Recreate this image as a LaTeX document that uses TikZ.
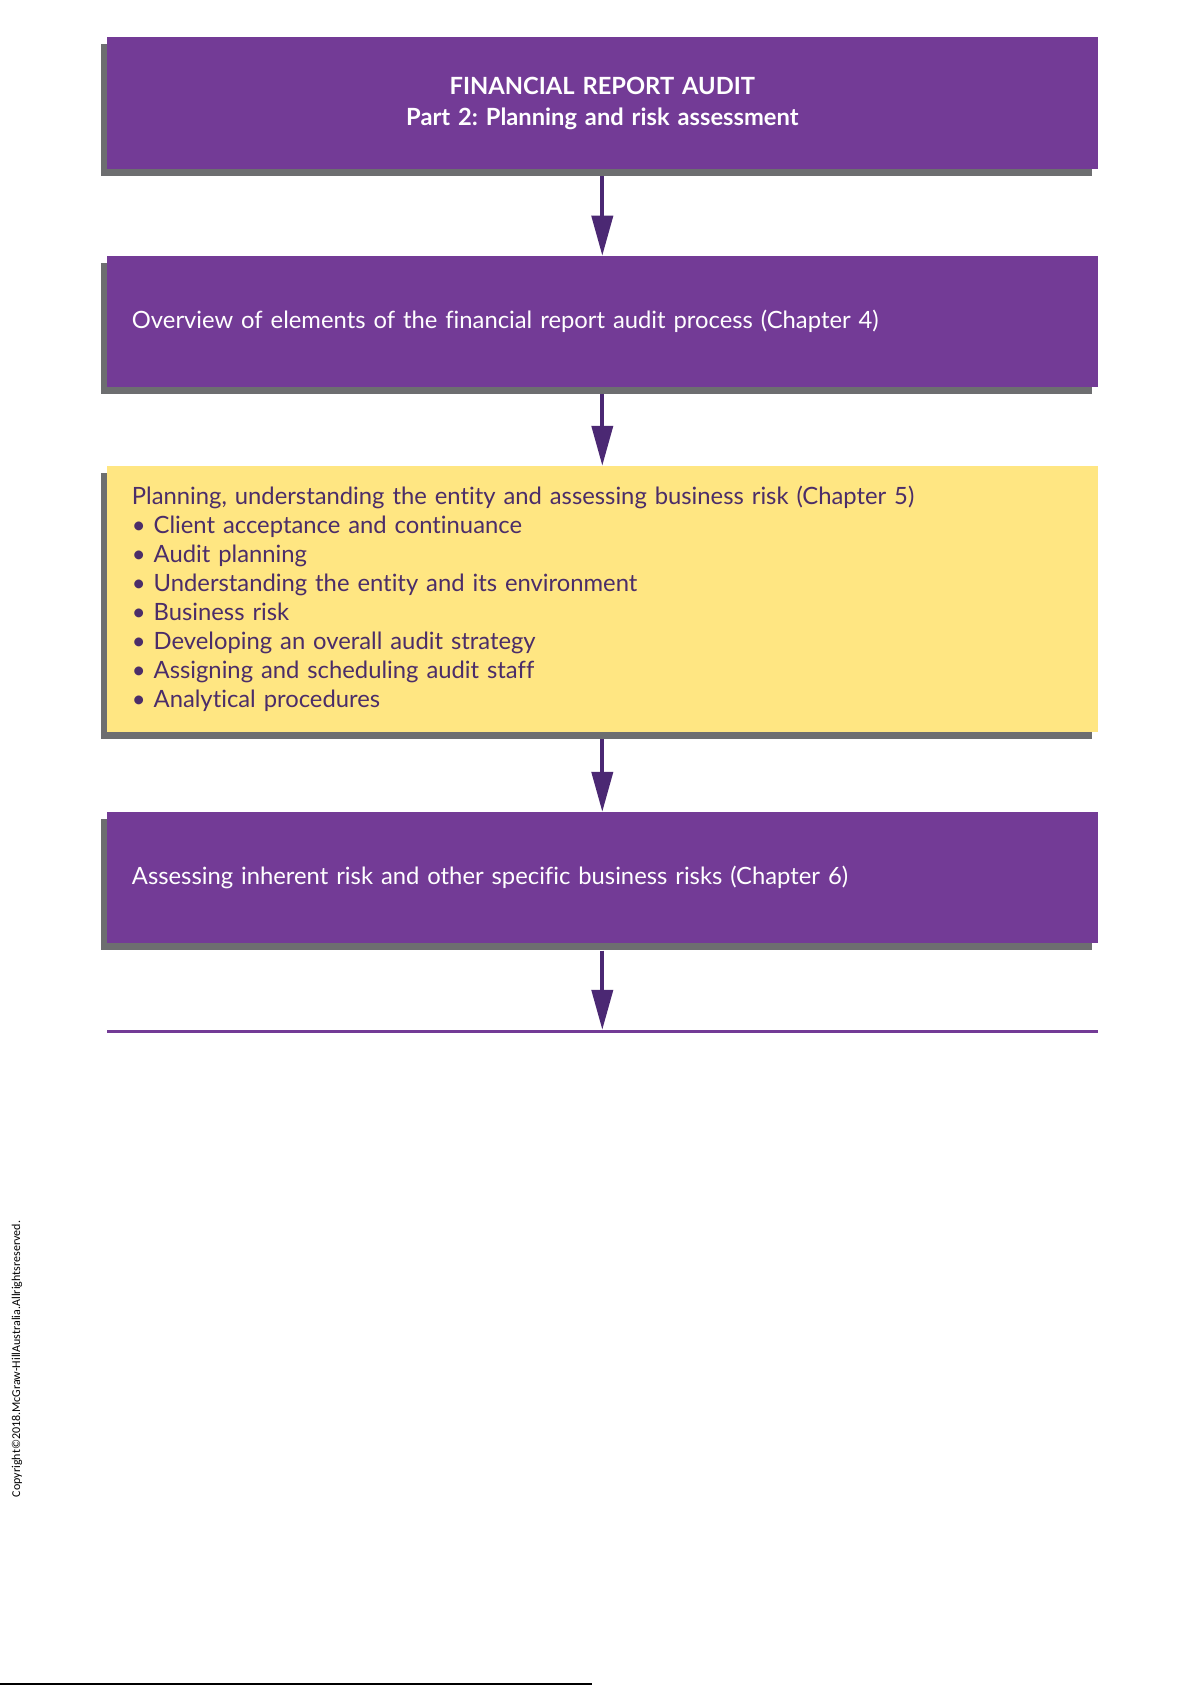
\documentclass[tikz,border=0pt]{standalone}
\usepackage{fontspec}
\setmainfont{Lato}[Ligatures=NoCommon]
\newfontfamily\cpfont{Carlito}
\usetikzlibrary{arrows.meta,shadows}
\definecolor{boxpurple}{RGB}{115,59,150}
\definecolor{arrowpurple}{RGB}{75,40,115}
\definecolor{boxyellow}{RGB}{255,230,130}
\definecolor{shadowgray}{RGB}{109,110,112}
\definecolor{darktext}{RGB}{75,45,105}
\frenchspacing
\begin{document}
\begin{tikzpicture}[x=1pt,y=-1pt,
  box/.style={rectangle, minimum width=991.3pt, text width=940.7pt,
    inner xsep=25.3pt, inner ysep=0pt, align=left,
    general shadow={fill=shadowgray, shadow xshift=-6pt, shadow yshift=-7pt},
    font=\fontsize{23.8}{29}\selectfont},
  purplebox/.style={box, fill=boxpurple, text=white},
  yellowbox/.style={box, fill=boxyellow, text=darktext},
  conn/.style={draw=arrowpurple, line width=4pt, -{Triangle[length=40pt,width=21pt]}}
]
\useasboundingbox (0,0) rectangle (1191,1685);
\fill[white] (0,0) rectangle (1191,1685);

\node[purplebox, minimum height=131.7pt, align=center,
      font=\bfseries\fontsize{23.7}{31}\selectfont] (b1) at (602.3,103.2)
  {FINANCIAL REPORT AUDIT\\Part 2: Planning and risk assessment};

\node[purplebox, minimum height=130.7pt] (b2) at (602.3,321.3)
  {Overview of elements of the financial report audit process (Chapter 4)};

\node[yellowbox, minimum height=265.7pt, font=\fontsize{23.8}{28.9}\selectfont] (b3) at (602.3,598.8)
  {Planning, understanding the entity and assessing business risk (Chapter 5)\\
   \textbullet\ Client acceptance and continuance\\
   \textbullet\ Audit planning\\
   \textbullet\ Understanding the entity and its environment\\
   \textbullet\ Business risk\\
   \textbullet\ Developing an overall audit strategy\\
   \textbullet\ Assigning and scheduling audit staff\\
   \textbullet\ Analytical procedures};

\node[purplebox, minimum height=131.3pt] (b4) at (602.3,877.7)
  {Assessing inherent risk and other specific business risks (Chapter 6)};

\node[rectangle, fill=boxpurple, minimum width=991.3pt, minimum height=3pt,
      inner sep=0pt] (endline) at (602.3,1031.5) {};

\draw[conn] ([yshift=-7pt]b1.south) -- (b2.north);
\draw[conn] ([yshift=-7pt]b2.south) -- (b3.north);
\draw[conn] ([yshift=-7pt]b3.south) -- (b4.north);
\draw[conn] ([yshift=-7pt]b4.south) -- (endline.north);

\node[rotate=90, font=\cpfont\fontsize{12}{14}\selectfont, inner sep=0pt] (copy) at (17,1359)
  {Copyright©2018.McGraw-HillAustralia.Allrightsreserved.};

\draw[black, line width=1.5pt] (0,1684.2) -- (592,1684.2);
\end{tikzpicture}
\end{document}
